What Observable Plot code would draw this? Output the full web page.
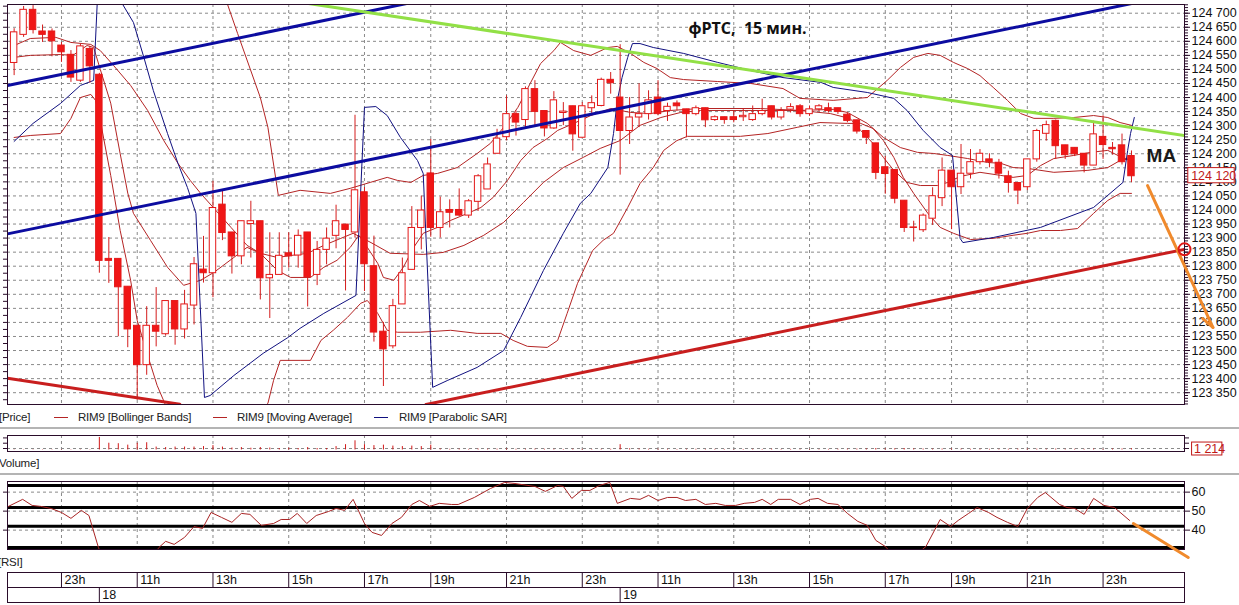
<!DOCTYPE html>
<html><head><meta charset="utf-8">
<script src="https://cdn.jsdelivr.net/npm/d3@7"></script>
<script src="https://cdn.jsdelivr.net/npm/@observablehq/plot@0.6"></script>
<style>
body{margin:0;background:#fff;}
#wrap{position:relative;width:1239px;height:605px;overflow:hidden;background:#fff;font-family:"Liberation Sans",Arial,sans-serif;}
.lbl{position:absolute;font-size:11.5px;color:#222;white-space:pre;line-height:14px;letter-spacing:-0.2px;}
.sep{position:absolute;left:0;width:1239px;height:2px;background:#b4b4b4;}
.dash{position:absolute;height:1px;width:14px;}
</style></head><body><div id="wrap"></div>
<script>
// ---------- DATA ----------
const open = [124523,124623,124712,124635,124635,124585,124552,124460,124573,124481,
123826,123826,123727,123588,123448,123588,123558,123676,123575,123660,
123788,123775,124019,123920,123835,123950,123960,123757,123769,123846,
123838,123920,123769,123858,123908,123948,123920,124063,123800,123567,
123515,123664,123787,123936,124130,123936,124000,124000,123980,124029,
124073,124200,124259,124341,124320,124430,124352,124290,124345,124369,
124257,124362,124370,124463,124400,124281,124329,124341,124400,124352,
124379,124358,124341,124362,124320,124330,124330,124330,124320,124341,
124369,124329,124357,124369,124341,124358,124362,124362,124339,124319,
124281,124237,124152,124142,124033,123936,123928,123969,124042,124140,
124081,124129,124170,124180,124168,124120,124096,124081,124180,124271,
124317,124230,124221,124200,124158,124260,124221,124230,124192];
const high = [124645,124724,124727,124658,124644,124596,124567,124590,124582,124486,
123902,123826,123727,123588,123656,123724,123676,123676,123714,123831,
123906,124102,124070,123920,123960,124031,123960,123919,123919,123919,
123929,123920,123888,123936,124017,123948,124337,124080,123907,123600,
123682,123829,124012,124049,124251,124046,124036,124075,124037,124126,
124185,124287,124406,124352,124438,124460,124352,124421,124382,124369,
124382,124406,124469,124489,124588,124400,124449,124424,124460,124380,
124388,124358,124370,124362,124335,124330,124352,124360,124370,124394,
124369,124364,124378,124375,124370,124375,124380,124362,124345,124319,
124281,124237,124190,124142,124033,123960,123986,124079,124185,124140,
124233,124215,124215,124200,124180,124138,124096,124180,124287,124316,
124320,124230,124221,124200,124316,124335,124240,124270,124210];
const low = [124478,124614,124626,124596,124545,124525,124454,124454,124451,123775,
123739,123549,123510,123323,123412,123513,123551,123519,123541,123591,
123740,123688,123891,123772,123805,123829,123680,123614,123769,123793,
123793,123655,123731,123805,123862,123712,123900,123710,123530,123372,
123506,123664,123787,123858,123903,123900,123936,123977,123970,123995,
124073,124200,124246,124263,124293,124299,124260,124287,124300,124209,
124257,124335,124367,124412,124124,124233,124293,124320,124335,124315,
124352,124257,124335,124293,124315,124305,124310,124315,124315,124335,
124320,124320,124345,124330,124333,124350,124345,124340,124310,124270,
124233,124108,124056,124022,123920,123886,123920,123945,124012,123930,
124055,124110,124160,124150,124110,124060,124019,124069,124170,124245,
124180,124180,124190,124132,124158,124180,124195,124160,124097];
const close = [124632,124712,124640,124623,124600,124561,124471,124582,124511,123819,
123819,123725,123575,123448,123588,123567,123676,123575,123664,123807,
123775,124007,123918,123835,123960,123960,123757,123769,123837,123835,
123908,123760,123858,123898,123960,123929,124070,123807,123564,123504,
123658,123775,123936,123998,123936,123992,123990,123980,124031,124120,
124162,124254,124341,124311,124430,124349,124290,124390,124350,124269,
124369,124380,124463,124451,124281,124329,124341,124390,124341,124367,
124369,124341,124362,124319,124330,124320,124320,124335,124341,124352,
124329,124352,124366,124341,124358,124369,124352,124349,124317,124279,
124257,124132,124128,124040,123936,123938,123980,124049,124140,124081,
124129,124170,124200,124170,124129,124096,124069,124180,124281,124302,
124227,124195,124198,124158,124269,124231,124216,124170,124120];
const volume = [300,300,300,300,300,300,300,300,300,
13000,7000,6500,5000,7000,7500,
3000,2500,3000,3000,3000,3500,4500,3000,2000,2500,
1800,2500,2000,1500,1800,1500,2500,1500,1500,3500,
5500,9500,5500,4500,5000,4000,3500,4000,3500,5000,
900,700,800,600,900,700,800,1000,700,600,
800,700,600,500,700,600,500,600,700,
5500,1200,900,700,800,600,500,600,700,500,
600,500,400,500,600,500,700,500,600,500,
600,500,600,700,800,900,1000,1500,1100,1200,
1500,1000,900,800,900,1000,800,700,600,700,
600,700,800,900,800,700,900,600,700,600,
800,700,900,1000,1214];

const bbUpper = [[0,124840],[3,124860],[6,124850],[8,124830],[9,124950],[11,125250],[14,125400],[18,125200],[21,124900],[22.5,124735],[23.6,124628],[26.0,124400],[26.8,124294],[27.9,124052],[30.2,124070],[33.4,124059],[35.5,124077],[37.6,124098],[39.4,124116],[40.5,124105],[41.9,124098],[43.2,124123],[44.7,124130],[46.8,124151],[48.9,124201],[50.3,124237],[51.7,124294],[53.2,124365],[54.5,124450],[55.6,124521],[57.0,124567],[57.7,124596],[59.1,124567],[60.9,124550],[62.7,124578],[63.7,124582],[65.1,124557],[66.5,124525],[67.9,124503],[69.3,124471],[70.7,124464],[74.3,124457],[77.8,124450],[81.2,124432],[83.0,124397],[86.5,124390],[90.1,124400],[92.2,124461],[93.6,124507],[95.0,124543],[96.5,124557],[97.8,124550],[99.2,124525],[100.7,124503],[102.0,124478],[103.4,124436],[104.9,124390],[106.3,124343],[107.7,124326],[109.8,124326],[111.9,124329],[114.0,124336],[115.5,124329],[116.8,124311],[118,124301]];
const bbMiddle = [[0,124585],[1.7,124610],[4.4,124614],[6.0,124596],[8.1,124589],[9.1,124567],[10.5,124514],[12.3,124443],[14.1,124354],[15.8,124247],[17.3,124166],[18.6,124105],[19.7,124059],[21.1,124006],[22.9,123938],[24.6,123874],[26.0,123846],[27.8,123831],[29.2,123838],[31.0,123846],[32.7,123874],[34.5,123899],[35.8,123917],[36.8,123900],[37.9,123880],[39.7,123846],[43.2,123842],[45.3,123849],[47.5,123874],[49.6,123910],[51.7,123956],[53.8,124027],[55.9,124098],[58.0,124151],[60.1,124187],[61.9,124219],[64.0,124247],[66.1,124301],[68.3,124329],[70.4,124347],[72.5,124354],[78.8,124354],[83.0,124354],[86.5,124358],[88.0,124347],[90.1,124308],[91.8,124258],[93.6,124222],[95.4,124205],[97.1,124201],[98.6,124194],[100.7,124183],[102.8,124169],[104.2,124166],[105.5,124151],[107.0,124148],[109.8,124134],[113.4,124141],[115.5,124151],[116.8,124176],[117.9,124183]];
const bbLower = [[0,124258],[1.7,124265],[4.9,124272],[6.0,124326],[7.0,124400],[8.1,124411],[8.6,124390],[9.1,124318],[10.2,124123],[11.2,123927],[12.3,123750],[13.0,123607],[14.1,123483],[15.1,123376],[16.0,123305],[18,123200],[21,123150],[24,123220],[26.8,123312],[27.4,123394],[28.1,123465],[30.2,123465],[31.3,123465],[32.4,123536],[33.7,123572],[35.2,123618],[36.6,123668],[37.3,123678],[38.4,123632],[39.4,123572],[40.5,123565],[42.9,123565],[46.1,123572],[48.9,123561],[51.4,123561],[52.7,123536],[54.2,123515],[56.3,123511],[57.4,123536],[58.4,123632],[59.5,123739],[61.1,123856],[62.2,123892],[63.3,123917],[64.8,124009],[66.1,124094],[67.5,124151],[68.6,124212],[70.0,124247],[71.1,124262],[73.9,124262],[76.7,124262],[79.6,124272],[82.7,124294],[85.1,124311],[88.0,124308],[89.4,124308],[90.7,124290],[91.8,124247],[92.9,124187],[93.9,124116],[95.0,124059],[96.5,123988],[97.8,123938],[99.2,123917],[101.0,123895],[103.4,123899],[105.5,123910],[107.0,123917],[108.4,123927],[110.5,123927],[112.3,123934],[114.0,123988],[115.5,124034],[116.8,124059],[118,124059]];
const maLine = [[0,124543],[1.7,124550],[4.9,124553],[6.2,124550],[7.7,124585],[8.4,124578],[9.1,124500],[10.2,124380],[11.2,124200],[12.0,124060],[12.6,123988],[14.4,123892],[16.2,123796],[17.9,123732],[19.7,123750],[21.1,123778],[23.2,123831],[24.6,123867],[26.0,123846],[27.8,123785],[29.2,123760],[31.3,123760],[32.7,123796],[34.1,123821],[35.5,123867],[36.4,123910],[37.3,123867],[38.4,123810],[39.0,123760],[40.1,123750],[41.1,123796],[42.2,123867],[43.2,123917],[44.7,123938],[46.1,123963],[47.9,123988],[49.3,124009],[50.6,124045],[52.1,124105],[53.5,124176],[54.8,124222],[56.3,124254],[57.4,124283],[59.1,124308],[60.9,124336],[63.0,124361],[65.1,124347],[67.2,124343],[69.3,124354],[72.5,124361],[78.8,124361],[83.0,124354],[86.2,124343],[88.3,124325],[89.4,124283],[90.7,124237],[91.8,124187],[92.9,124141],[94.3,124098],[95.7,124087],[97.5,124087],[98.6,124098],[99.9,124119],[102.0,124134],[104.2,124123],[105.5,124116],[107.0,124123],[108.4,124158],[109.8,124183],[111.9,124194],[113.7,124205],[115.5,124212],[116.8,124190],[117.9,124176]];
const sarLine = [[0,124244],[2.0,124308],[4.9,124379],[7.0,124443],[8.4,124461],[9,124900],[10,124860],[11,124790],[11.4,124735],[12.6,124667],[13.7,124543],[14.7,124425],[16.2,124272],[17.3,124166],[18.3,124080],[19.2,123988],[20.1,123333],[20.7,123340],[23.2,123411],[26.3,123490],[28.9,123546],[30.2,123579],[32.7,123632],[36.1,123696],[37.0,124365],[38.2,124368],[39.4,124336],[40.8,124258],[42.6,124176],[43.2,124130],[44.2,123369],[45.8,123394],[48.9,123440],[51.7,123500],[53.5,123618],[55.9,123785],[58.0,123917],[59.8,124024],[60.9,124059],[62.7,124151],[63.3,124272],[63.7,124390],[64.2,124471],[64.8,124543],[65.3,124592],[66.1,124592],[67.5,124578],[70.7,124557],[74.3,124525],[77.8,124496],[81.2,124471],[85.2,124454],[86.5,124436],[90.1,124418],[92.9,124397],[94.3,124354],[96.0,124283],[97.8,124222],[99.1,124194],[99.9,123899],[100.2,123884],[103.4,123902],[108.4,123938],[114.0,124009],[117.1,124098],[117.6,124212],[117.9,124272],[118.3,124329]];
const rsi = [[-0.6,52.5],[0.9,56.2],[1.9,53.0],[2.8,52.5],[3.9,51.4],[5.0,49.3],[6.0,46.2],[7.1,50.4],[7.9,47.7],[8.9,30.9],[9.5,24],[11,20],[12.5,17],[14,22],[15.3,30.9],[16.0,34.1],[16.9,32.5],[18.0,36.2],[19.0,41.9],[19.9,40.9],[20.8,49.3],[21.9,46.7],[23.0,44.1],[24.0,48.8],[24.9,48.3],[26.1,42.5],[27.4,43.5],[28.2,45.6],[29.1,45.6],[29.9,48.8],[30.9,43.5],[31.9,47.7],[33.2,49.8],[34.0,51.4],[34.9,50.4],[35.8,56.2],[37.0,43.5],[37.8,38.8],[38.8,37.2],[39.9,43.5],[40.9,46.7],[42.0,53.5],[42.8,55.6],[43.9,52.5],[44.9,54.1],[46.2,53.5],[46.9,53.5],[48.6,57.2],[50.3,61.9],[51.8,65.1],[52.8,64.6],[55.0,63.0],[56.1,60.4],[57.4,63.5],[58.0,63.0],[58.9,56.7],[59.9,60.9],[60.8,60.9],[61.8,63.5],[62.9,65.1],[63.7,54.1],[65.1,56.7],[66.1,56.2],[67.0,58.3],[68.0,55.6],[69.0,57.2],[70.0,57.2],[70.9,55.6],[72.0,56.2],[73.0,53.5],[74.1,54.1],[75.1,53.0],[76.2,53.0],[77.1,54.1],[78.2,54.6],[79.0,56.2],[79.9,53.5],[80.7,56.2],[82.0,56.2],[83.0,53.5],[84.1,56.2],[84.9,56.7],[85.9,54.1],[87.0,53.5],[88.0,48.8],[89.1,44.6],[90.1,42.5],[91.0,34.6],[92.0,31.4],[93,26],[94.5,24],[96.3,31.4],[97.8,45.6],[98.9,41.9],[99.7,45.1],[100.8,48.8],[101.7,51.9],[102.9,49.3],[103.8,46.7],[104.9,44.1],[106.0,41.9],[107.0,51.4],[108.1,57.2],[108.9,59.8],[110.4,53.5],[111.2,51.9],[112.0,51.4],[113.0,48.3],[114.0,56.7],[115.1,53.0],[116.2,51.9],[117.8,45.1]];

// hand-drawn trend lines (index, price)
const blueUpper = [[-0.7,124443],[45,124759]];
const blueLower = [[-0.7,123915],[123.6,124773]];
const greenLine = [[30,124740],[123.6,124265]];
const redLower = [[43.5,123308],[123.6,123860]];
const redLeft = [[-0.7,123401],[17.5,123309]];
const orangeMain = [[119.7,124087],[126.6,123582]];
const orangeBarb = [[125.5,123614],[126.6,123582]];
const orangeRsi = [[118.2,43.5],[124.0,25.6]];
const circlePt = [{x:123.6, y:123860}];

const hourTickIdx = [5,13,21,29,37,44,52,60,68,76,84,92,99,107,115];
const hourLabels = ["23h","11h","13h","15h","17h","19h","21h","23h","11h","13h","15h","17h","19h","21h","23h"];
const dayTickIdx = [9,64];
const dayLabels = ["18","19"];
const priceTicks = d3.range(123350, 124701, 50);
const rsiTicks = [40,50,60];
const rsiLevels = [63.5,51.9,42,30.9];
const lastPrice = 124120;
const lastVolume = 1214;

// ---------- BUILD ----------
const candles = open.map((o,i)=>({i, o, h:high[i], l:low[i], c:close[i]}));
const vols = volume.map((v,i)=>({i, v}));
const fmt = d => d3.format(",")(d).replace(/,/g, " ");
const FR = "#2a0c2a";
const GRID = {stroke:"#8a8a8a", strokeDasharray:"3,3", strokeWidth:1};
const X = {domain:[-0.7,123.6], axis:null};
const base = {width:1239, marginLeft:7, marginRight:55,
  style:{fontFamily:"'Liberation Sans', Arial, sans-serif", fontSize:"12.5px", background:"transparent", overflow:"visible", color:"#111"}};
const P = d => d[0], V = d => d[1];

const main = Plot.plot({...base, height:408, marginTop:4, marginBottom:4,
  x: X, y: {domain:[123308,124731], axis:null},
  marks: [
    Plot.ruleY(priceTicks, GRID),
    Plot.ruleX(hourTickIdx, GRID),
    Plot.line(bbUpper, {x:P, y:V, stroke:"#b42424", strokeWidth:1, clip:true}),
    Plot.line(bbMiddle, {x:P, y:V, stroke:"#b42424", strokeWidth:1, clip:true}),
    Plot.line(bbLower, {x:P, y:V, stroke:"#b42424", strokeWidth:1, clip:true}),
    Plot.line(maLine, {x:P, y:V, stroke:"#b42424", strokeWidth:1, clip:true}),
    Plot.line(sarLine, {x:P, y:V, stroke:"#101080", strokeWidth:1, clip:true}),
    Plot.ruleX(candles, {x:"i", y1:"l", y2:"h", stroke:"#d41c1c", strokeWidth:1}),
    Plot.rect(candles, {x1:d=>d.i-0.34, x2:d=>d.i+0.34, y1:"o", y2:"c",
      fill:d=>d.c>=d.o ? "#ffffff" : "#f01616", stroke:"#e41818", strokeWidth:1}),
    Plot.line(blueUpper, {x:P, y:V, stroke:"#0c0ca0", strokeWidth:3, clip:true}),
    Plot.line(blueLower, {x:P, y:V, stroke:"#0c0ca0", strokeWidth:3, clip:true}),
    Plot.line(greenLine, {x:P, y:V, stroke:"#92e046", strokeWidth:3, clip:true}),
    Plot.line(redLower, {x:P, y:V, stroke:"#c81e1e", strokeWidth:3, clip:true}),
    Plot.line(redLeft, {x:P, y:V, stroke:"#c81e1e", strokeWidth:3, clip:true}),
    Plot.frame({stroke:FR}),
    Plot.axisY({anchor:"right", ticks:d3.range(123310,124731,10), tickSize:3, tickFormat:()=>"", label:null, stroke:FR}),
    Plot.axisY({anchor:"right", ticks:priceTicks, tickSize:5, tickPadding:2, tickFormat:fmt, label:null, stroke:FR}),
    Plot.axisY({anchor:"left", ticks:d3.range(123325,124731,25), tickSize:4, tickFormat:()=>"", label:null, stroke:FR}),
    Plot.rect([{a:124.0,b:128.9,c:124149,d:124095}], {x1:"a", x2:"b", y1:"c", y2:"d", fill:"#fff", stroke:"#c01818"}),
    Plot.text([lastPrice], {x:124.3, y:d=>d, text:d=>fmt(d), textAnchor:"start", fill:"#c01818", fontSize:12.5}),
    Plot.line(orangeMain, {x:P, y:V, stroke:"#f08a2c", strokeWidth:3}),
    Plot.line(orangeBarb, {x:P, y:V, stroke:"#f08a2c", strokeWidth:3}),
    Plot.dot(circlePt, {x:"x", y:"y", r:6, stroke:"#e01818", strokeWidth:2, fill:"none"}),
    Plot.text([{x:77.45, y:124646, t:"фРТС,\u00a0 15 мин."}], {x:"x", y:"y", text:"t", fontFamily:"'Open Sans', sans-serif", fontWeight:"bold", fontSize:16, fill:"#111"}),
    Plot.text([{x:119.6, y:124194, t:"MA"}], {x:"x", y:"y", text:"t", textAnchor:"start", fontFamily:"'Liberation Sans', Arial, sans-serif", fontWeight:"bold", fontSize:19, fill:"#1a1a1a"})
  ]});

const vol = Plot.plot({...base, height:20, marginTop:2, marginBottom:2,
  x: X, y: {domain:[-1600,15000], axis:null},
  marks: [
    Plot.ruleY([1500], GRID),
    Plot.ruleX(hourTickIdx, GRID),
    Plot.ruleX(vols, {x:"i", y1:0, y2:"v", stroke:"#d01818", strokeWidth:1, clip:true}),
    Plot.frame({stroke:FR}),
    Plot.axisY({anchor:"right", ticks:[1500,7000,12500], tickSize:4, tickFormat:()=>"", label:null, stroke:FR}),
    Plot.axisY({anchor:"left", ticks:[1500,7000,12500], tickSize:4, tickFormat:()=>"", label:null, stroke:FR}),
    Plot.rect([{a:124.4,b:127.6,c:7700,d:-5750}], {x1:"a", x2:"b", y1:"c", y2:"d", fill:"#fff", stroke:"#c01818"}),
    Plot.text([lastVolume], {x:124.6, y:1000, text:d=>fmt(d), textAnchor:"start", fill:"#c01818", fontSize:12.5})
  ]});

const rsiPlot = Plot.plot({...base, height:72, marginTop:2, marginBottom:2,
  x: X, y: {domain:[29.8,65.6], axis:null},
  marks: [
    Plot.ruleY(rsiTicks, GRID),
    Plot.ruleX(hourTickIdx, GRID),
    Plot.ruleY(rsiLevels, {stroke:"#000", strokeWidth:3}),
    Plot.line(rsi, {x:P, y:V, stroke:"#a82424", strokeWidth:1, clip:true}),
    Plot.frame({stroke:FR}),
    Plot.axisY({anchor:"right", ticks:rsiTicks, tickSize:5, tickPadding:2, label:null, stroke:FR}),
    Plot.axisY({anchor:"left", ticks:rsiTicks, tickSize:4, tickFormat:()=>"", label:null, stroke:FR}),
    Plot.line(orangeRsi, {x:P, y:V, stroke:"#f08a2c", strokeWidth:3})
  ]});

const timeAxis = Plot.plot({...base, height:34, marginTop:2, marginBottom:2,
  x: X, y: {domain:[0,30], axis:null},
  marks: [
    Plot.frame({stroke:FR}),
    Plot.ruleY([15], {stroke:FR}),
    Plot.ruleX(hourTickIdx, {x:d=>d, y1:15, y2:30, stroke:FR}),
    Plot.ruleX(dayTickIdx, {x:d=>d, y1:0, y2:15, stroke:FR}),
    Plot.text(hourTickIdx, {x:d=>d, y:22.5, text:(d,i)=>hourLabels[i], dx:3, textAnchor:"start", fontSize:12.5, fill:"#111"}),
    Plot.text(dayTickIdx, {x:d=>d, y:7.5, text:(d,i)=>dayLabels[i], dx:3, textAnchor:"start", fontSize:12.5, fill:"#111"})
  ]});

const wrap = document.getElementById("wrap");
function place(el, top){ el.style.position="absolute"; el.style.left="0px"; el.style.top=top+"px"; wrap.appendChild(el); }
place(main, 0);
place(vol, 433);
place(rsiPlot, 479);
place(timeAxis, 570);

function html(tag, cls, css, txt){ const e=document.createElement(tag); e.className=cls; Object.assign(e.style, css); if(txt!=null) e.textContent=txt; wrap.appendChild(e); return e; }
html("div","lbl",{left:"-1px", top:"410px"},"[Price]");
html("div","dash",{left:"54px", top:"417px", background:"#b42424"});
html("div","lbl",{left:"78px", top:"410px"},"RIM9 [Bollinger Bands]");
html("div","dash",{left:"213px", top:"417px", background:"#b42424"});
html("div","lbl",{left:"237px", top:"410px"},"RIM9 [Moving Average]");
html("div","dash",{left:"374px", top:"417px", background:"#101080"});
html("div","lbl",{left:"399px", top:"410px"},"RIM9 [Parabolic SAR]");
html("div","sep",{top:"427px"});
html("div","lbl",{left:"-4px", top:"456px"},"[Volume]");
html("div","sep",{top:"473px"});
html("div","lbl",{left:"-2px", top:"555px"},"[RSI]");
</script></body></html>
